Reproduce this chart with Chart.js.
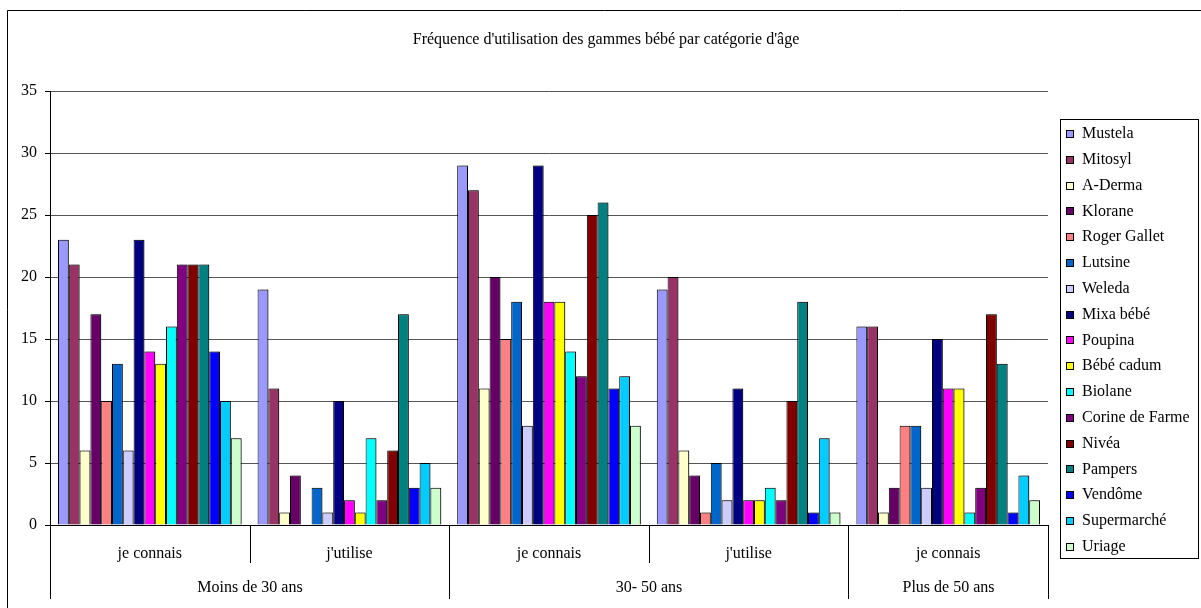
<!DOCTYPE html>
<html>
<head>
<meta charset="utf-8">
<script src="https://cdn.jsdelivr.net/npm/chart.js@4.4.0/dist/chart.umd.min.js"></script>
<style>
html,body{margin:0;padding:0;background:#fff;}
#wrap{width:1201px;height:608px;position:relative;}
</style>
</head>
<body>
<div id="wrap"><canvas id="chart" width="1201" height="608"></canvas></div>
<script>
// categories (inner row) and age groups (outer row)
const categories=["je connais","j'utilise","je connais","j'utilise","je connais"];
const ageGroups=["Moins de 30 ans","30- 50 ans","Plus de 50 ans"];
const ageSpans=[2,2,1];
const yTicks=[0,5,10,15,20,25,30,35];

const brands=["Mustela","Mitosyl","A-Derma","Klorane","Roger Gallet","Lutsine","Weleda","Mixa bébé","Poupina","Bébé cadum","Biolane","Corine de Farme","Nivéa","Pampers","Vendôme","Supermarché","Uriage"];
const mustela=[23,19,29,19,16];
const mitosyl=[21,11,27,20,16];
const aDerma=[6,1,11,6,1];
const klorane=[17,4,20,4,3];
const rogerGallet=[10,0,15,1,8];
const lutsine=[13,3,18,5,8];
const weleda=[6,1,8,2,3];
const mixaBebe=[23,10,29,11,15];
const poupina=[14,2,18,2,11];
const bebeCadum=[13,1,18,2,11];
const biolane=[16,7,14,3,1];
const corineDeFarme=[21,2,12,2,3];
const nivea=[21,6,25,10,17];
const pampers=[21,17,26,18,13];
const vendome=[14,3,11,1,1];
const supermarche=[10,5,12,7,4];
const uriage=[7,3,8,1,2];
const seriesValues=[mustela,mitosyl,aDerma,klorane,rogerGallet,lutsine,weleda,mixaBebe,poupina,bebeCadum,biolane,corineDeFarme,nivea,pampers,vendome,supermarche,uriage];

const colors=['#9999FF','#993366','#FFFFCC','#660066','#FF8080','#0066CC','#CCCCFF','#000080','#FF00FF','#FFFF00','#00FFFF','#800080','#800000','#008080','#0000FF','#00CCFF','#CCFFCC'];
const FONT="'Liberation Serif','Times New Roman',serif";
const TITLE="Fréquence d'utilisation des gammes bébé par catégorie d'âge";

// bar shadow
const shadowPlugin={
  id:'shadow',
  beforeDatasetsDraw(chart){
    const c=chart.ctx;c.save();
    c.shadowColor='rgba(0,0,0,0.35)';c.shadowOffsetX=2;c.shadowOffsetY=0;c.shadowBlur=0;
  },
  afterDatasetsDraw(chart){chart.ctx.restore();}
};

// title, frame, category separators, outer labels, legend
const decoPlugin={
  id:'deco',
  afterDraw(chart){
    const c=chart.ctx,x=chart.scales.x,area=chart.chartArea;
    c.save();
    c.font='16px '+FONT;c.fillStyle='#000';c.textAlign='center';c.textBaseline='middle';
    c.fillText(TITLE,606,40);
    // frame
    c.strokeStyle='#000';c.lineWidth=1;
    c.beginPath();c.moveTo(7.5,608);c.lineTo(7.5,10.5);c.lineTo(1201,10.5);c.stroke();
    // separators
    const step=x.getPixelForValue(1)-x.getPixelForValue(0);
    const edge=i=>Math.round(x.getPixelForValue(0)-step/2+i*step)+0.5;
    const outer=[0];let acc=0;ageSpans.forEach(s=>{acc+=s;outer.push(acc);});
    for(let i=0;i<=categories.length;i++){
      const px=edge(i);
      c.beginPath();c.moveTo(px,area.bottom);c.lineTo(px,outer.includes(i)?599:563);c.stroke();
    }
    ageGroups.forEach((g,k)=>{
      const cx=(edge(outer[k])+edge(outer[k+1]))/2;
      c.fillText(g,cx,588);
    });
    // legend
    c.strokeRect(1060.5,119.5,138,439);
    c.textAlign='left';
    chart.data.datasets.forEach((d,i)=>{
      const y=134+i*25.8;
      c.fillStyle=d.backgroundColor;
      c.fillRect(1066,Math.round(y-4),8,8);
      c.strokeRect(1066.5,Math.round(y-4)+0.5,7,7);
      c.fillStyle='#000';
      c.fillText(d.label,1082,y);
    });
    c.restore();
  }
};

new Chart(document.getElementById('chart'),{
  type:'bar',
  data:{
    labels:categories,
    datasets:brands.map((b,i)=>({label:b,data:seriesValues[i],backgroundColor:colors[i],borderColor:'#000',borderWidth:1,categoryPercentage:0.92,barPercentage:1}))
  },
  options:{
    responsive:false,animation:false,devicePixelRatio:1,
    layout:{padding:{left:0,right:153,top:91,bottom:43}},
    plugins:{legend:{display:false},title:{display:false},tooltip:{enabled:false}},
    scales:{
      x:{
        grid:{display:false,drawTicks:false},
        border:{color:'#000',width:1},
        ticks:{color:'#000',font:{family:FONT,size:16},padding:19,maxRotation:0},
        afterFit(s){s.height=40;}
      },
      y:{
        min:0,max:35,
        afterBuildTicks(s){s.ticks=yTicks.map(v=>({value:v}));},
        grid:{color:'#555',tickLength:5,tickColor:'#000'},
        border:{color:'#000',width:1},
        ticks:{color:'#000',font:{family:FONT,size:16},padding:8},
        afterFit(s){s.width=50;}
      }
    }
  },
  plugins:[shadowPlugin,decoPlugin]
});
</script>
</body>
</html>
